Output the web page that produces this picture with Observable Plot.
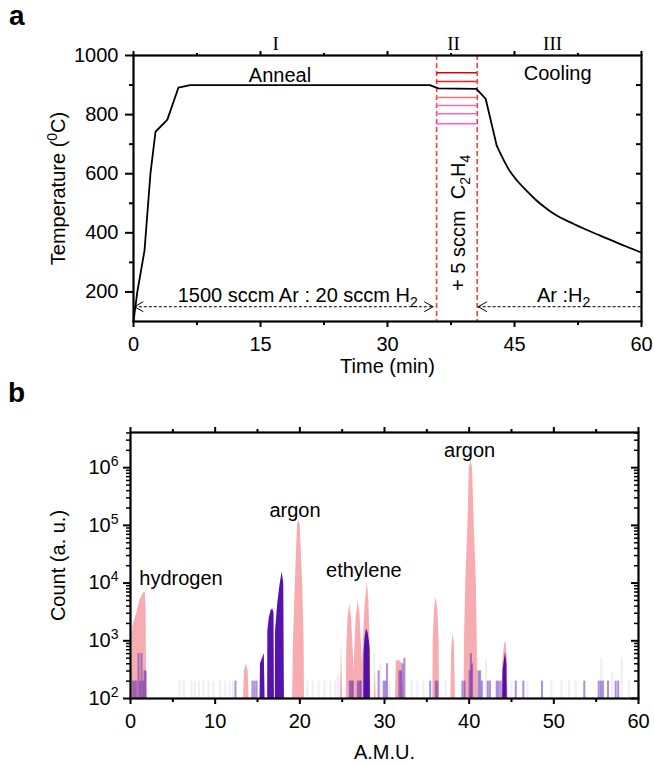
<!DOCTYPE html>
<html><head><meta charset="utf-8">
<script src="https://cdn.jsdelivr.net/npm/d3@7"></script>
<script src="https://cdn.jsdelivr.net/npm/@observablehq/plot@0.6"></script>
<style>
body{margin:0;background:#fff;}
#wrap{position:relative;width:654px;height:765px;overflow:hidden;font-family:"Liberation Sans",Arial,Helvetica,sans-serif;}
.panel{position:absolute;left:0;}
.lbl{position:absolute;font-weight:bold;font-size:28px;line-height:28px;z-index:3;}
</style></head><body>
<div id="wrap">
<div id="pa" class="panel" style="top:0"></div>
<div id="pb" class="panel" style="top:380px"></div>
<div class="lbl" style="left:9px;top:2px">a</div>
<div class="lbl" style="left:8px;top:379px">b</div>
</div>
<script>
const FONT = "'Liberation Sans', Arial, Helvetica, sans-serif";

// ---------- Panel a data ----------
const timeMin = [0, 0.45, 1.3, 2.0, 2.6, 4.0, 5.3, 6.7, 35.0, 36.0, 40.5, 41.6, 42.9, 44.4, 45.3, 46.5, 47.5, 48.5, 49.6, 52.0, 55.0, 57.5, 60];
const tempC   = [100, 200, 340, 600, 742, 783, 891, 900, 900, 889, 887, 853, 695, 611, 577, 540, 512, 488, 465, 430, 392, 362, 333];
const coolingStart = 42.9;
const c2h4Window = [35.8, 40.6];
const growthTemps = [942, 912, 858, 831, 803, 769];
const growthColors = ["#e00000", "#ff1a1a", "#ff6b6b", "#ff6aa8", "#ff66cc", "#ff55ff"];
const gasTemp = 150;
const gasArArrow = [0.1, 35.4];
const gasCoolArrow = [40.7, 60];
const stageNames = ["I", "II", "III"];
const stageTimes = [16.8, 37.8, 49.5];
const xMajorA = [0, 15, 30, 45, 60];
const xMinorA = [7.5, 22.5, 37.5, 52.5];
const yMajorA = [200, 400, 600, 800, 1000];
const yMinorA = [300, 500, 700, 900];
const yRightA = [200, 300, 400, 500, 600, 700, 800, 900];

// ---------- Panel b data ----------
const pinkAmu = [0.1, 0.2, 0.35, 0.75, 1.1, 1.5, 1.75, 1.85, 1.9,
  13.35, 13.45, 13.7, 13.9, 14.0,
  19.15, 19.25, 19.47, 19.72, 19.85, 20.05, 20.33, 20.5, 20.55,
  24.8, 24.93, 25.05,
  25.48, 25.55, 25.7, 25.9, 26.1, 26.3, 26.4, 26.5, 26.65, 26.9, 27.1, 27.3, 27.4, 27.5, 27.7, 27.97, 28.15, 28.3, 28.38,
  28.8, 28.9, 29.0,
  31.3, 31.4, 31.8, 32.1, 32.25,
  35.7, 35.75, 35.9, 36.1, 36.3, 36.45, 36.5,
  37.85, 37.9, 38.0, 38.12, 38.25, 38.38,
  39.4, 39.45, 39.6, 39.85, 40.02, 40.2, 40.4, 40.6, 40.85, 40.95, 41.0,
  43.85, 43.95, 44.2, 44.35, 44.5, 44.6];
const pinkCount = [100, 1300, 2000, 3000, 5000, 6600, 7000, 3000, 100,
  100, 300, 400, 300, 100,
  100, 1000, 10000, 100000, 125000, 100000, 10000, 1000, 100,
  100, 950, 100,
  100, 800, 2500, 4400, 2500, 700, 300, 800, 2500, 5000, 3000, 700, 400, 1000, 4000, 10500, 5000, 1000, 100,
  100, 300, 100,
  100, 450, 450, 400, 100,
  100, 1000, 3500, 5700, 3500, 1000, 100,
  100, 500, 1000, 1300, 900, 100,
  100, 1000, 10000, 100000, 1000000, 1300000, 1000000, 100000, 10000, 1000, 100,
  100, 400, 900, 950, 500, 100];
const purpleAmu = [15.3, 15.35, 15.6, 15.8, 15.9,
  16.2, 16.22, 16.4, 16.6, 16.8, 16.95, 17.0,
  17.1, 17.12, 17.4, 17.65, 17.9, 18.1, 18.18,
  27.55, 27.58, 27.7, 27.87, 28.05, 28.2, 28.3, 28.33,
  43.95, 44.0, 44.15, 44.3, 44.45, 44.5];
const purpleCount = [100, 400, 500, 600, 100,
  100, 1500, 2500, 3300, 3600, 3000, 100,
  100, 1400, 4500, 9000, 15500, 10000, 100,
  100, 600, 1100, 1600, 1400, 1000, 700, 100,
  100, 300, 450, 630, 400, 100];
const purpleLineAmu = [0.3, 0.5, 0.7, 0.95, 1.15, 1.3, 1.5, 1.65, 1.8,
  12.4, 14.4, 14.65, 14.9,
  25.9, 26.1, 26.25, 26.85, 27.05, 27.2,
  29.3, 29.9, 30.1, 30.3,
  31.75, 31.95, 32.15, 32.35,
  35.4, 36.05, 36.25, 39.2, 39.45, 40.05, 40.2, 40.35,
  41.1, 41.3, 41.5, 42.2, 42.45, 43.25, 43.45, 43.7,
  45.5, 46.4, 48.6, 53.6, 55.3, 55.55, 55.8, 56.4, 57.3, 57.6];
const purpleLineCount = [200, 200, 200, 600, 200, 600, 200, 300, 300,
  200, 200, 200, 200,
  200, 200, 200, 200, 200, 200,
  300, 200, 200, 400,
  300, 300, 400, 500,
  200, 200, 200, 200, 200, 300, 600, 400,
  300, 300, 200, 200, 200, 200, 200, 200,
  200, 200, 200, 200, 200, 200, 200, 200, 200, 200];
const faintAmu = [5.8, 6.3, 7.2, 7.6, 8.1, 8.6, 9.2, 9.8, 10.6, 11.2, 11.7, 12.1, 20.9, 21.5, 22.2, 22.9, 23.6, 24.2, 24.5, 28.8, 29.5, 30.6, 33.2, 33.9, 34.6, 37.2, 41.0, 42.0, 45.0, 46.9, 49.7, 50.9, 51.8, 52.6, 55.6, 56.9, 58.0, 58.9];
const faintCount = [200, 200, 200, 200, 200, 200, 200, 200, 200, 200, 200, 200, 200, 200, 200, 200, 200, 200, 250, 600, 400, 200, 200, 200, 200, 200, 500, 450, 200, 200, 200, 200, 200, 200, 500, 280, 500, 200];
const gasNames = ["hydrogen", "argon", "ethylene", "argon"];
const gasLabelAmu = [5.97, 19.43, 27.56, 40.05];
const gasLabelCount = [12000, 180000, 16600, 1950000];
const xMajorB = [0, 10, 20, 30, 40, 50, 60];
const xMinorB = [5, 15, 25, 35, 45, 55];
const yMajorB = [1e2, 1e3, 1e4, 1e5, 1e6];
const yMinorB = [];
for (const e of [2, 3, 4, 5, 6]) for (const m of [2,3,4,5,6,7,8,9]) { const v = m * Math.pow(10, e); if (v < 4.07e6) yMinorB.push(v); }

// ---------- helpers ----------
function richify(svg) {
  d3.select(svg).selectAll("text").each(function () {
    const el = this;
    const targets = el.querySelector("tspan") ? [...el.querySelectorAll("tspan")] : [el];
    for (const t of targets) {
      const s = t.textContent;
      if (!/[_^]/.test(s)) continue;
      t.textContent = "";
      const re = /([_^])(\{[^}]*\}|.)/g; let last = 0, m; const parts = [];
      while ((m = re.exec(s))) {
        if (m.index > last) parts.push({t: s.slice(last, m.index), k: ""});
        let v = m[2]; if (v[0] === "{") v = v.slice(1, -1);
        parts.push({t: v, k: m[1]}); last = re.lastIndex;
      }
      if (last < s.length) parts.push({t: s.slice(last), k: ""});
      let shift = 0;
      for (const p of parts) {
        const ts = document.createElementNS("http://www.w3.org/2000/svg", "tspan");
        ts.textContent = p.t;
        const target = p.k === "^" ? -8 : p.k === "_" ? 5 : 0;
        if (target !== shift) { ts.setAttribute("dy", target - shift); shift = target; }
        if (p.k) ts.setAttribute("font-size", "14");
        t.appendChild(ts);
      }
    }
  });
}
const chevronLeft = {draw(ctx) { ctx.moveTo(9, -5); ctx.lineTo(0, 0); ctx.lineTo(9, 5); }};
const chevronRight = {draw(ctx) { ctx.moveTo(-9, -5); ctx.lineTo(0, 0); ctx.lineTo(-9, 5); }};

// ---------- Panel a ----------
const curve = timeMin.map((t, i) => ({t, T: tempC[i]}));
const plotA = Plot.plot({
  width: 654, height: 380,
  marginTop: 55, marginBottom: 59, marginLeft: 133, marginRight: 13,
  style: {fontFamily: FONT, fontSize: "20px", color: "#000", background: "transparent", overflow: "visible"},
  x: {domain: [0, 60]},
  y: {domain: [100, 1000]},
  color: {type: "identity"},
  marks: [
    Plot.ruleX(c2h4Window, {x: d => d, stroke: "#ff3b3b", strokeWidth: 1.6, strokeDasharray: "5,3"}),
    Plot.ruleY(growthTemps, {y: d => d, x1: c2h4Window[0], x2: c2h4Window[1], stroke: (d, i) => growthColors[i], strokeWidth: 1.5}),
    Plot.ruleY([gasTemp], {y: d => d, x1: gasArArrow[0], x2: gasArArrow[1], stroke: "#000", strokeWidth: 1, strokeDasharray: "3,2"}),
    Plot.ruleY([gasTemp], {y: d => d, x1: gasCoolArrow[0], x2: gasCoolArrow[1], stroke: "#000", strokeWidth: 1, strokeDasharray: "3,2"}),
    Plot.dot([gasArArrow[0], gasCoolArrow[0]], {x: d => d, y: gasTemp, symbol: chevronLeft, fill: "none", stroke: "#000", strokeWidth: 1}),
    Plot.dot([gasArArrow[1]], {x: d => d, y: gasTemp, symbol: chevronRight, fill: "none", stroke: "#000", strokeWidth: 1}),
    Plot.line(curve.filter(d => d.t <= coolingStart), {x: "t", y: "T", stroke: "#000", strokeWidth: 1.8, curve: "linear"}),
    Plot.line(curve.filter(d => d.t >= coolingStart), {x: "t", y: "T", stroke: "#000", strokeWidth: 1.8, curve: "monotone-x"}),
    Plot.text(["Anneal"], {x: 17.3, y: 932, text: d => d}),
    Plot.text(["Cooling"], {x: 50.1, y: 939, text: d => d}),
    Plot.text(["1500 sccm Ar : 20 sccm H_2"], {x: 19.4, y: gasTemp, dy: -11, text: d => d}),
    Plot.text(["Ar :H_2"], {x: 50.8, y: gasTemp, dy: -11, text: d => d}),
    Plot.text(["+ 5 sccm  C_2H_4"], {x: 38.4, y: 434, rotate: -90, text: d => d}),
    Plot.text(stageNames, {x: (d, i) => stageTimes[i], y: 1000, dy: -12, text: d => d, fontFamily: "'Liberation Serif', 'Times New Roman', serif", fontSize: 19}),
    Plot.frame({stroke: "#000", strokeWidth: 2.2}),
    Plot.axisX({anchor: "bottom", ticks: xMajorA, tickSize: 6, tickPadding: 9, tickFormat: d => String(d), label: null, strokeWidth: 2}),
    Plot.axisX({anchor: "bottom", ticks: xMinorA, tickSize: 4, tickFormat: () => "", label: null, strokeWidth: 2}),
    Plot.axisX({anchor: "top", ticks: xMajorA, tickSize: 5, tickFormat: () => "", label: null, strokeWidth: 2}),
    Plot.axisX({anchor: "top", ticks: xMinorA, tickSize: 3, tickFormat: () => "", label: null, strokeWidth: 2}),
    Plot.axisY({anchor: "left", ticks: yMajorA, tickSize: 8, tickPadding: 7, tickFormat: d => String(d), label: null, strokeWidth: 2}),
    Plot.axisY({anchor: "left", ticks: yMinorA, tickSize: 4, tickFormat: () => "", label: null, strokeWidth: 2}),
    Plot.tickY(yRightA, {y: d => d, insetLeft: 503, stroke: "#000", strokeWidth: 2}),
    Plot.text(["Time (min)"], {frameAnchor: "bottom", dy: 45, lineAnchor: "middle", textAnchor: "middle", text: d => d}),
    Plot.text(["Temperature (^0C)"], {frameAnchor: "left", dx: -75, rotate: -90, textAnchor: "middle", lineAnchor: "middle", text: d => d})
  ]
});
richify(plotA);
document.getElementById("pa").appendChild(plotA);

// ---------- Panel b ----------
const pink = pinkAmu.map((a, i) => ({a, c: pinkCount[i]}));
const purple = purpleAmu.map((a, i) => ({a, c: purpleCount[i]}));
const plotB = Plot.plot({
  width: 654, height: 385,
  marginTop: 52, marginBottom: 67, marginLeft: 130, marginRight: 16,
  style: {fontFamily: FONT, fontSize: "20px", color: "#000", background: "transparent", overflow: "visible"},
  x: {domain: [0, 60]},
  y: {type: "log", domain: [100, 4.07e6]},
  marks: [
    Plot.ruleX(faintAmu, {x: d => d, y1: 100, y2: (d, i) => faintCount[i], stroke: "#a99cc8", strokeOpacity: 0.18, strokeWidth: 2}),
    Plot.areaY(pink, {x: "a", y1: 100, y2: "c", fill: "#f6a3a8", fillOpacity: 0.9, curve: "linear"}),
    Plot.ruleX(purpleLineAmu, {x: d => d, y1: 100, y2: (d, i) => purpleLineCount[i], stroke: "#5a22b4", strokeOpacity: 0.5, strokeWidth: 2}),
    Plot.areaY(purple, {x: "a", y1: 100, y2: "c", fill: "#4a06a8", fillOpacity: 0.95, curve: "linear"}),
    Plot.text(gasNames, {x: (d, i) => gasLabelAmu[i], y: (d, i) => gasLabelCount[i], text: d => d}),
    Plot.frame({stroke: "#000", strokeWidth: 2.2}),
    Plot.axisX({anchor: "bottom", ticks: xMajorB, tickSize: 6, tickPadding: 9, tickFormat: d => String(d), label: null, strokeWidth: 2}),
    Plot.axisX({anchor: "bottom", ticks: xMinorB, tickSize: 4, tickFormat: () => "", label: null, strokeWidth: 2}),
    Plot.axisX({anchor: "top", ticks: xMajorB, tickSize: 6, tickFormat: () => "", label: null, strokeWidth: 2}),
    Plot.axisX({anchor: "top", ticks: xMinorB, tickSize: 4, tickFormat: () => "", label: null, strokeWidth: 2}),
    Plot.axisY({anchor: "left", ticks: yMajorB, tickSize: 7, tickPadding: 5, tickFormat: d => "10^" + Math.round(Math.log10(d)), label: null, strokeWidth: 2}),
    Plot.axisY({anchor: "left", ticks: yMinorB, tickSize: 4, tickFormat: () => "", label: null, strokeWidth: 1.5}),
    Plot.tickY(yMajorB, {y: d => d, insetLeft: 501, stroke: "#000", strokeWidth: 2}),
    Plot.tickY(yMinorB, {y: d => d, insetLeft: 504, stroke: "#000", strokeWidth: 1.5}),
    Plot.text(["A.M.U."], {frameAnchor: "bottom", dy: 54, lineAnchor: "middle", textAnchor: "middle", text: d => d}),
    Plot.text(["Count (a. u.)"], {frameAnchor: "left", dx: -72, rotate: -90, textAnchor: "middle", lineAnchor: "middle", text: d => d})
  ]
});
richify(plotB);
document.getElementById("pb").appendChild(plotB);
</script>
</body></html>
